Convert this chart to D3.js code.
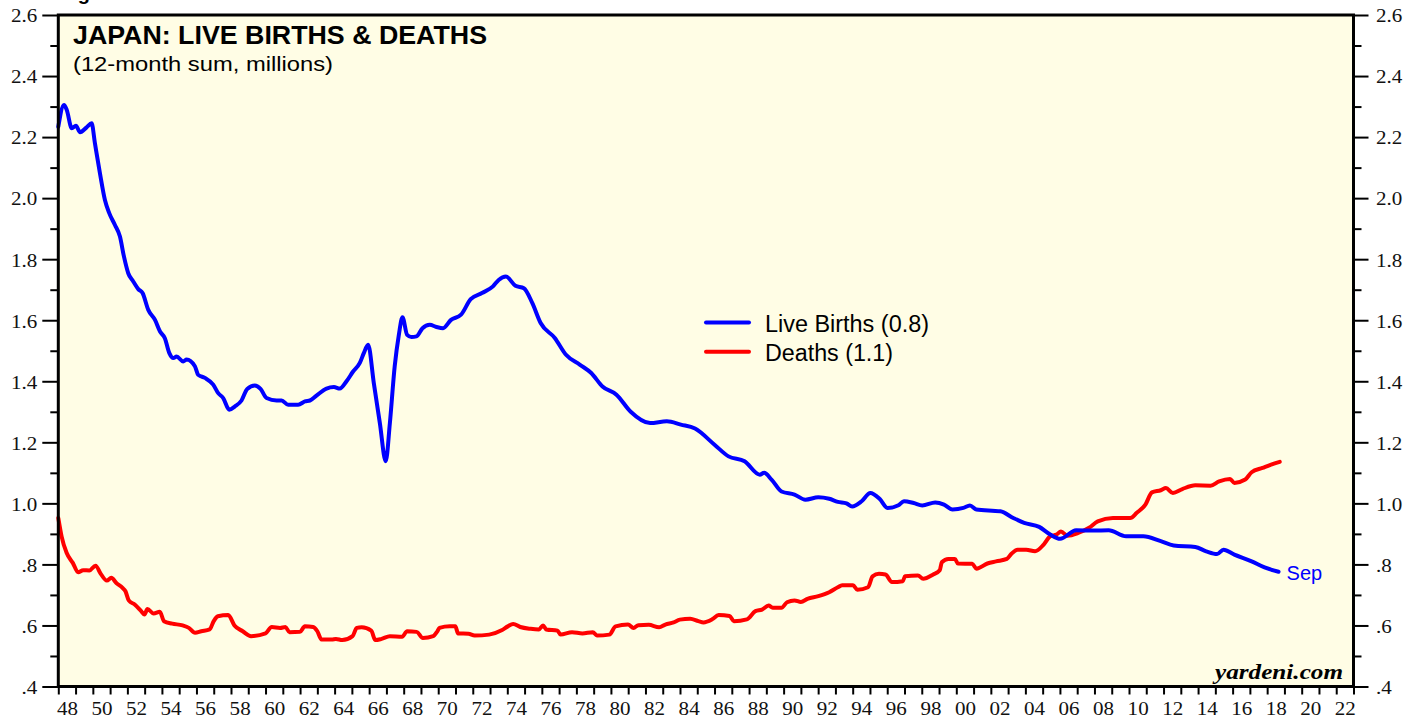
<!DOCTYPE html>
<html>
<head>
<meta charset="utf-8">
<script src="https://cdn.jsdelivr.net/npm/d3@7"></script>
<style>
  body { margin: 0; background: #fff; }
  svg { display: block; }
  .tick text { font-family: "Liberation Serif", "Times New Roman", serif; font-size: 18px; fill: #111; }
  .tick line { stroke: #000; stroke-width: 2; }
</style>
</head>
<body>
<svg id="chart" width="1419" height="719"></svg>
<script>
// 12-month sums, millions (decimal years)
const birthYears = [
  1948.00, 1948.33, 1948.49, 1948.78, 1949.02, 1949.26, 1949.64, 1949.93, 1950.12, 1950.41,
  1950.70, 1950.95, 1951.28, 1951.57, 1951.80, 1952.05, 1952.34, 1952.63, 1952.88, 1953.21,
  1953.60, 1953.89, 1954.17, 1954.43, 1954.66, 1954.85, 1955.23, 1955.43, 1955.91, 1956.10,
  1956.49, 1956.97, 1957.26, 1957.55, 1957.90, 1958.23, 1958.61, 1958.94, 1959.38, 1959.71,
  1960.06, 1960.64, 1960.93, 1961.31, 1961.89, 1962.28, 1962.57, 1962.95, 1963.53, 1963.96,
  1964.30, 1964.69, 1965.07, 1965.46, 1965.69, 1965.94, 1966.27, 1966.62, 1966.96, 1967.20,
  1967.48, 1967.72, 1967.93, 1968.20, 1968.45, 1968.74, 1969.09, 1969.51, 1969.90, 1970.28,
  1970.74, 1971.32, 1971.88, 1972.53, 1973.17, 1973.50, 1973.92, 1974.47, 1974.96, 1975.45,
  1975.93, 1976.75, 1977.40, 1978.21, 1978.86, 1979.51, 1980.32, 1981.13, 1982.27, 1983.24,
  1984.05, 1984.87, 1986.00, 1986.81, 1987.74, 1988.62, 1988.87, 1989.30, 1989.88, 1990.63,
  1991.26, 1992.01, 1992.64, 1993.14, 1993.64, 1993.97, 1994.52, 1995.02, 1995.57, 1996.02,
  1996.65, 1996.97, 1997.53, 1998.03, 1998.78, 1999.29, 1999.78, 2000.41, 2000.79, 2001.16,
  2002.55, 2003.30, 2003.93, 2004.80, 2005.44, 2006.01, 2006.94, 2007.94, 2008.82, 2009.83,
  2010.83, 2011.84, 2012.59, 2013.84, 2014.47, 2015.10, 2015.47, 2016.10, 2017.10, 2017.85,
  2018.66
];
const births = [
  2.234, 2.305, 2.289, 2.229, 2.237, 2.216, 2.232, 2.245, 2.180, 2.082,
  1.994, 1.951, 1.912, 1.874, 1.809, 1.754, 1.727, 1.702, 1.689, 1.634,
  1.601, 1.563, 1.541, 1.492, 1.476, 1.481, 1.465, 1.471, 1.449, 1.421,
  1.411, 1.389, 1.361, 1.345, 1.307, 1.318, 1.337, 1.375, 1.386, 1.375,
  1.345, 1.337, 1.337, 1.323, 1.323, 1.334, 1.337, 1.353, 1.376, 1.381,
  1.376, 1.400, 1.432, 1.460, 1.492, 1.520, 1.394, 1.263, 1.138, 1.263,
  1.449, 1.552, 1.610, 1.552, 1.545, 1.547, 1.574, 1.585, 1.578, 1.574,
  1.601, 1.618, 1.669, 1.689, 1.711, 1.732, 1.743, 1.713, 1.705, 1.656,
  1.591, 1.542, 1.487, 1.454, 1.427, 1.383, 1.356, 1.301, 1.263, 1.269,
  1.258, 1.245, 1.192, 1.154, 1.138, 1.094, 1.100, 1.078, 1.039, 1.029,
  1.012, 1.020, 1.015, 1.005, 1.000, 0.990, 1.007, 1.034, 1.014, 0.985,
  0.994, 1.007, 1.001, 0.993, 1.003, 0.996, 0.980, 0.985, 0.993, 0.980,
  0.974, 0.952, 0.936, 0.923, 0.898, 0.884, 0.912, 0.911, 0.912, 0.892,
  0.892, 0.876, 0.862, 0.857, 0.843, 0.834, 0.848, 0.832, 0.810, 0.790,
  0.776
];

const deathYears = [
  1948.00, 1948.19, 1948.48, 1948.84, 1949.15, 1949.44, 1949.80, 1950.16, 1950.45, 1950.81,
  1951.07, 1951.36, 1951.72, 1951.89, 1952.08, 1952.44, 1952.80, 1952.99, 1953.16, 1953.52,
  1953.88, 1954.12, 1954.60, 1955.20, 1955.56, 1955.92, 1956.28, 1956.76, 1957.00, 1957.24,
  1957.84, 1958.20, 1958.68, 1959.16, 1960.00, 1960.36, 1960.84, 1961.15, 1961.39, 1961.99,
  1962.28, 1962.76, 1963.00, 1963.24, 1963.84, 1964.08, 1964.44, 1965.04, 1965.28, 1965.57,
  1966.12, 1966.36, 1966.72, 1967.20, 1967.91, 1968.20, 1968.75, 1969.11, 1969.71, 1969.95,
  1970.07, 1970.67, 1970.99, 1971.15, 1971.75, 1972.11, 1972.95, 1973.67, 1974.03, 1974.34,
  1974.75, 1975.35, 1975.83, 1976.07, 1976.26, 1976.91, 1977.08, 1977.75, 1978.35, 1978.95,
  1979.19, 1979.91, 1980.27, 1980.99, 1981.31, 1981.59, 1982.19, 1982.79, 1983.15, 1983.63,
  1983.99, 1984.59, 1985.07, 1985.36, 1985.86, 1986.24, 1986.87, 1987.12, 1987.87, 1988.37,
  1988.75, 1989.13, 1989.37, 1989.88, 1990.20, 1990.63, 1991.00, 1991.38, 1992.01, 1992.64,
  1993.14, 1993.39, 1994.02, 1994.27, 1994.89, 1995.15, 1995.52, 1995.90, 1996.27, 1996.90,
  1997.03, 1997.78, 1998.08, 1998.66, 1999.04, 1999.16, 1999.54, 1999.92, 2000.09, 2000.92,
  2001.17, 2001.80, 2002.30, 2002.93, 2003.18, 2003.55, 2004.05, 2004.56, 2005.06, 2005.44,
  2005.81, 2006.06, 2006.44, 2007.06, 2007.69, 2008.19, 2009.07, 2010.07, 2010.45, 2010.95,
  2011.33, 2011.84, 2012.14, 2012.54, 2013.09, 2013.84, 2014.72, 2015.22, 2015.85, 2016.10,
  2016.73, 2017.10, 2017.73, 2018.23, 2018.73
];
const deaths = [
  0.952, 0.892, 0.838, 0.805, 0.774, 0.781, 0.780, 0.796, 0.770, 0.747,
  0.756, 0.739, 0.723, 0.712, 0.682, 0.668, 0.647, 0.636, 0.654, 0.639,
  0.645, 0.614, 0.606, 0.600, 0.592, 0.576, 0.581, 0.587, 0.614, 0.630,
  0.634, 0.600, 0.581, 0.565, 0.574, 0.595, 0.592, 0.595, 0.578, 0.579,
  0.597, 0.595, 0.581, 0.554, 0.554, 0.556, 0.552, 0.565, 0.592, 0.594,
  0.583, 0.552, 0.556, 0.565, 0.563, 0.581, 0.579, 0.559, 0.565, 0.581,
  0.592, 0.597, 0.597, 0.574, 0.573, 0.567, 0.570, 0.584, 0.597, 0.605,
  0.595, 0.589, 0.587, 0.600, 0.587, 0.583, 0.570, 0.578, 0.574, 0.578,
  0.567, 0.570, 0.597, 0.603, 0.592, 0.601, 0.602, 0.594, 0.603, 0.610,
  0.619, 0.622, 0.614, 0.610, 0.620, 0.634, 0.631, 0.614, 0.620, 0.647,
  0.652, 0.665, 0.658, 0.658, 0.676, 0.682, 0.677, 0.687, 0.696, 0.709,
  0.725, 0.732, 0.732, 0.717, 0.725, 0.761, 0.769, 0.767, 0.742, 0.745,
  0.761, 0.764, 0.753, 0.767, 0.781, 0.807, 0.818, 0.818, 0.803, 0.802,
  0.786, 0.803, 0.810, 0.818, 0.834, 0.848, 0.848, 0.843, 0.865, 0.892,
  0.898, 0.908, 0.894, 0.903, 0.920, 0.941, 0.952, 0.952, 0.969, 0.996,
  1.036, 1.043, 1.050, 1.034, 1.047, 1.059, 1.058, 1.072, 1.080, 1.067,
  1.078, 1.102, 1.116, 1.127, 1.136
];

const yTicks = [0.4, 0.6, 0.8, 1.0, 1.2, 1.4, 1.6, 1.8, 2.0, 2.2, 2.4, 2.6];
const yMinorTicks = [0.5, 0.7, 0.9, 1.1, 1.3, 1.5, 1.7, 1.9, 2.1, 2.3, 2.5];
const xTickYears = d3.range(1948, 2024);
const xLabelYears = d3.range(1948, 2023, 2);

const plot = { left: 58.3, right: 1353.5, top: 15, bottom: 686.5 };
const stretch = 1.17; // tick digits in the picture are a bit wide

const svg = d3.select("#chart");

const x = d3.scaleLinear().domain([1948, 2023]).range([plot.left, plot.right]);
const y = d3.scaleLinear().domain([0.4, 2.6]).range([plot.bottom, plot.top]);

svg.append("rect")
    .attr("x", plot.left).attr("y", plot.top)
    .attr("width", plot.right - plot.left).attr("height", plot.bottom - plot.top)
    .attr("fill", "#fffde5");

// caption sits above the page edge in the picture, only its descender shows
svg.append("text")
    .attr("x", 60).attr("y", 0)
    .attr("font-family", "Liberation Sans, Arial, sans-serif")
    .attr("font-weight", "bold").attr("font-size", 20)
    .text("Figure 1.");

const fmt = v => d3.format(".1f")(v).replace(/^0/, "");

// left axis
svg.append("g").attr("transform", `translate(${plot.left},0)`)
    .call(d3.axisLeft(y).tickValues(yMinorTicks).tickSize(8).tickFormat(""))
    .call(g => g.select(".domain").remove());
svg.append("g").attr("transform", `translate(${plot.left},0)`)
    .call(d3.axisLeft(y).tickValues(yTicks).tickSize(16).tickFormat(fmt))
    .call(g => g.select(".domain").remove())
    .call(g => g.selectAll("text")
        .attr("x", -21 / stretch).attr("dy", "0.38em")
        .attr("transform", `scale(${stretch},1)`));

// right axis
svg.append("g").attr("transform", `translate(${plot.right},0)`)
    .call(d3.axisRight(y).tickValues(yMinorTicks).tickSize(8).tickFormat(""))
    .call(g => g.select(".domain").remove());
svg.append("g").attr("transform", `translate(${plot.right},0)`)
    .call(d3.axisRight(y).tickValues(yTicks).tickSize(15).tickFormat(fmt))
    .call(g => g.select(".domain").remove())
    .call(g => g.selectAll("text")
        .attr("x", 22.5 / stretch).attr("dy", "0.38em")
        .attr("transform", `scale(${stretch},1)`));

// bottom axis: a tick every year, labels centred on even years
svg.append("g").attr("transform", `translate(0,${plot.bottom})`)
    .call(d3.axisBottom(x).tickValues(xTickYears).tickSize(8).tickFormat(""))
    .call(g => g.select(".domain").remove());
svg.append("g").attr("transform", `translate(0,${plot.bottom})`)
    .call(d3.axisBottom(x).tickValues(xLabelYears.map(d => d + 0.5)).tickSize(0)
        .tickFormat(d => String(Math.floor(d) % 100).padStart(2, "0")))
    .call(g => g.select(".domain").remove())
    .call(g => g.selectAll("text")
        .attr("y", 28.5).attr("dy", 0)
        .attr("transform", `scale(${stretch},1)`));

// series
const line = d3.line()
    .x(d => x(d[0]))
    .y(d => y(d[1]))
    .curve(d3.curveMonotoneX);

svg.append("path")
    .attr("d", line(d3.zip(deathYears, deaths)))
    .attr("fill", "none").attr("stroke", "#ff0000")
    .attr("stroke-width", 4).attr("stroke-linejoin", "round").attr("stroke-linecap", "round");

svg.append("path")
    .attr("d", line(d3.zip(birthYears, births)))
    .attr("fill", "none").attr("stroke", "#0000ff")
    .attr("stroke-width", 4).attr("stroke-linejoin", "round").attr("stroke-linecap", "round");

// frame
svg.append("rect")
    .attr("x", plot.left).attr("y", plot.top)
    .attr("width", plot.right - plot.left).attr("height", plot.bottom - plot.top)
    .attr("fill", "none").attr("stroke", "#000").attr("stroke-width", 3);

// titles
const sans = "Liberation Sans, Arial, Helvetica, sans-serif";
svg.append("text")
    .attr("x", 73).attr("y", 43.5)
    .attr("font-family", sans).attr("font-weight", "bold").attr("font-size", 25)
    .attr("textLength", 414).attr("lengthAdjust", "spacingAndGlyphs")
    .text("JAPAN: LIVE BIRTHS & DEATHS");
svg.append("text")
    .attr("x", 73).attr("y", 71)
    .attr("font-family", sans).attr("font-size", 21)
    .attr("textLength", 260).attr("lengthAdjust", "spacingAndGlyphs")
    .text("(12-month sum, millions)");

// legend
const legend = [
  { label: "Live Births (0.8)", color: "#0000ff", width: 164 },
  { label: "Deaths (1.1)", color: "#ff0000", width: 128 }
];
const lg = svg.append("g");
lg.selectAll("line").data(legend).join("line")
    .attr("x1", 706).attr("x2", 749)
    .attr("y1", (d, i) => 322.5 + i * 29.3).attr("y2", (d, i) => 322.5 + i * 29.3)
    .attr("stroke", d => d.color).attr("stroke-width", 4).attr("stroke-linecap", "round");
lg.selectAll("text").data(legend).join("text")
    .attr("x", 765).attr("y", (d, i) => 332 + i * 29.3)
    .attr("font-family", sans).attr("font-size", 23)
    .attr("textLength", d => d.width).attr("lengthAdjust", "spacingAndGlyphs")
    .text(d => d.label);

// last-point label
svg.append("text")
    .attr("x", x(birthYears[birthYears.length - 1]) + 8)
    .attr("y", y(births[births.length - 1]) + 8.5)
    .attr("font-family", sans).attr("font-size", 20).attr("fill", "#0000ff")
    .text("Sep");

// watermark
svg.append("text")
    .attr("x", 1343).attr("y", 679)
    .attr("text-anchor", "end")
    .attr("font-family", "Liberation Serif, Times New Roman, serif")
    .attr("font-weight", "bold").attr("font-style", "italic").attr("font-size", 21)
    .attr("textLength", 128).attr("lengthAdjust", "spacingAndGlyphs")
    .text("yardeni.com");
</script>
</body>
</html>
